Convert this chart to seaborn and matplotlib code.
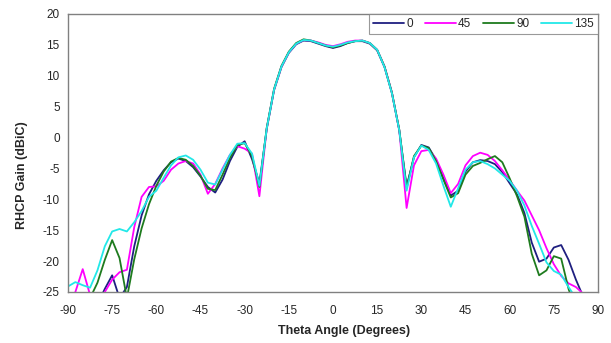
import numpy as np
import pandas as pd
import seaborn as sns
import matplotlib
matplotlib.use("Agg")
import matplotlib.pyplot as plt

theta = [-90, -87.5, -85, -82.5, -80, -77.5, -75, -72.5, -70, -67.5, -65, -62.5,
         -60, -57.5, -55, -52.5, -50, -47.5, -45, -42.5, -40, -37.5, -35, -32.5,
         -30, -27.5, -25, -22.5, -20, -17.5, -15, -12.5, -10, -7.5, -5, -2.5,
         0, 2.5, 5, 7.5, 10, 12.5, 15, 17.5, 20, 22.5, 25, 27.5, 30, 32.5,
         35, 37.5, 40, 42.5, 45, 47.5, 50, 52.5, 55, 57.5, 60, 62.5, 65, 67.5,
         70, 72.5, 75, 77.5, 80, 82.5, 85, 87.5, 90]

gain_0 = [-28, -28, -28, -28, -27, -24.5, -22.3, -26, -24.2, -17.6, -12.6, -9.2,
          -7.0, -5.3, -4.0, -3.4, -3.8, -4.8, -6.3, -8.0, -8.9, -6.8, -3.8, -1.5,
          -0.6, -3.5, -7.4, 1.4, 7.7, 11.4, 13.7, 15.1, 15.7, 15.6, 15.2, 14.8,
          14.5, 14.8, 15.3, 15.6, 15.6, 15.2, 14.1, 11.4, 7.2, 1.2, -7.9, -3.2, -1.2, -1.6,
          -3.6, -6.6, -9.4, -8.6, -5.5, -4.0, -3.65, -3.8, -4.3, -5.6, -7.4, -9.2, -12.2, -17.0,
          -20.1, -19.6, -17.8, -17.4, -19.8, -23.0, -25.8, -28, -28]

gain_45 = [-28, -25, -21.3, -25.5, -28, -25, -23.0, -21.8, -21.4, -14.5, -9.6, -8.0,
           -7.9, -7.0, -5.2, -4.2, -3.8, -4.2, -6.0, -9.1, -7.5, -5.0, -2.8, -1.4,
           -1.8, -2.6, -9.5, 1.5, 7.8, 11.5, 13.8, 15.2, 15.8, 15.7, 15.4, 15.0,
           14.8, 15.1, 15.5, 15.7, 15.7, 15.3, 14.2, 11.5, 7.3, 1.2, -11.4, -4.5, -2.2, -2.0,
           -3.4, -6.0, -9.0, -7.5, -4.5, -3.0, -2.45, -2.8, -3.8, -5.3, -6.9, -8.6, -10.2, -12.6,
           -15.0, -17.9, -20.5, -22.4, -23.6, -24.2, -25.3, -28, -28]

gain_90 = [-28, -28, -28, -26, -23.5, -19.8, -16.6, -19.5, -26, -19.7, -14.7, -10.8,
           -7.8, -5.5, -3.9, -3.3, -3.6, -4.6, -6.2, -8.3, -8.5, -6.0, -3.3, -1.2,
           -0.9, -3.0, -8.0, 1.6, 7.9, 11.6, 13.9, 15.3, 15.9, 15.7, 15.3, 14.9,
           14.6, 14.9, 15.3, 15.6, 15.7, 15.3, 14.2, 11.5, 7.3, 1.3, -8.2, -3.0, -1.3, -1.7,
           -3.8, -6.8, -9.7, -9.0, -6.0, -4.6, -4.1, -3.5, -3.0, -4.0, -6.6, -9.5, -12.8, -18.8,
           -22.3, -21.5, -19.2, -19.6, -24.5, -28, -28, -28, -28]

gain_135 = [-24.1, -23.4, -23.9, -24.3, -21.5, -17.6, -15.2, -14.8, -15.2, -13.7, -11.9, -9.6,
            -8.6, -6.5, -4.5, -3.2, -2.9, -3.6, -5.2, -7.3, -7.6, -5.2, -2.8, -1.0,
            -0.9, -2.6, -7.8, 1.5, 7.8, 11.5, 13.8, 15.2, 15.8, 15.7, 15.3, 14.9,
            14.7, 15.0, 15.4, 15.6, 15.7, 15.3, 14.2, 11.4, 7.2, 1.2, -8.6, -3.2, -1.3, -2.0,
            -4.2, -7.8, -11.2, -8.2, -5.2, -4.0, -3.8, -4.3, -5.0, -6.0, -7.0, -8.6, -11.0, -14.3,
            -17.2, -20.2, -21.6, -22.2, -24.2, -26, -28, -28, -28]

series_names = ["0", "45", "90", "135"]
series_colors = ["#1f1f80", "#ff00ff", "#1e7b1e", "#22e8e8"]
x_ticks = list(range(-90, 91, 15))
y_ticks = list(range(-25, 21, 5))

frames = []
for name, vals in zip(series_names, [gain_0, gain_45, gain_90, gain_135]):
    frames.append(pd.DataFrame({"theta": theta, "gain": vals, "phi": name}))
df = pd.concat(frames, ignore_index=True)

sns.set_style("white")
plt.rcParams["font.family"] = ["Liberation Sans", "DejaVu Sans"]
plt.rcParams["axes.unicode_minus"] = False

fig = plt.figure(figsize=(6.11, 3.43), dpi=100)
ax = fig.add_axes([68 / 611, 1 - 292 / 343, (598 - 68) / 611, (292 - 14) / 343])

sns.lineplot(data=df, x="theta", y="gain", hue="phi", hue_order=series_names,
             palette=dict(zip(series_names, series_colors)), linewidth=1.3,
             ax=ax, sort=False, estimator=None)

ax.set_xlim(-90, 90)
ax.set_ylim(-25, 20)
ax.set_xticks(x_ticks)
ax.set_yticks(y_ticks)
ax.tick_params(axis="both", labelsize=8.5, length=3, width=0.8, color="#808080",
               direction="out", pad=3)
ax.tick_params(axis="x", pad=6)
for s in ax.spines.values():
    s.set_color("#808080")
    s.set_linewidth(1.0)

ax.set_xlabel("Theta Angle (Degrees)", fontsize=9, fontweight="bold")
ax.set_ylabel("RHCP Gain (dBiC)", fontsize=9, fontweight="bold")
ax.xaxis.set_label_coords(0.52, -0.12)
ax.yaxis.set_label_coords(-0.075, 0.42)

leg = ax.legend(loc="upper right", bbox_to_anchor=(1.0, 1.0), ncol=4, frameon=True,
                fancybox=False, fontsize=8.5, handlelength=2.6, handletextpad=0.2,
                columnspacing=1.0, borderaxespad=0.0, borderpad=0.35)
leg.get_frame().set_edgecolor("#808080")
leg.get_frame().set_linewidth(0.8)
for h in leg.get_lines():
    h.set_linewidth(1.3)

fig.savefig("out.png", dpi=100)
